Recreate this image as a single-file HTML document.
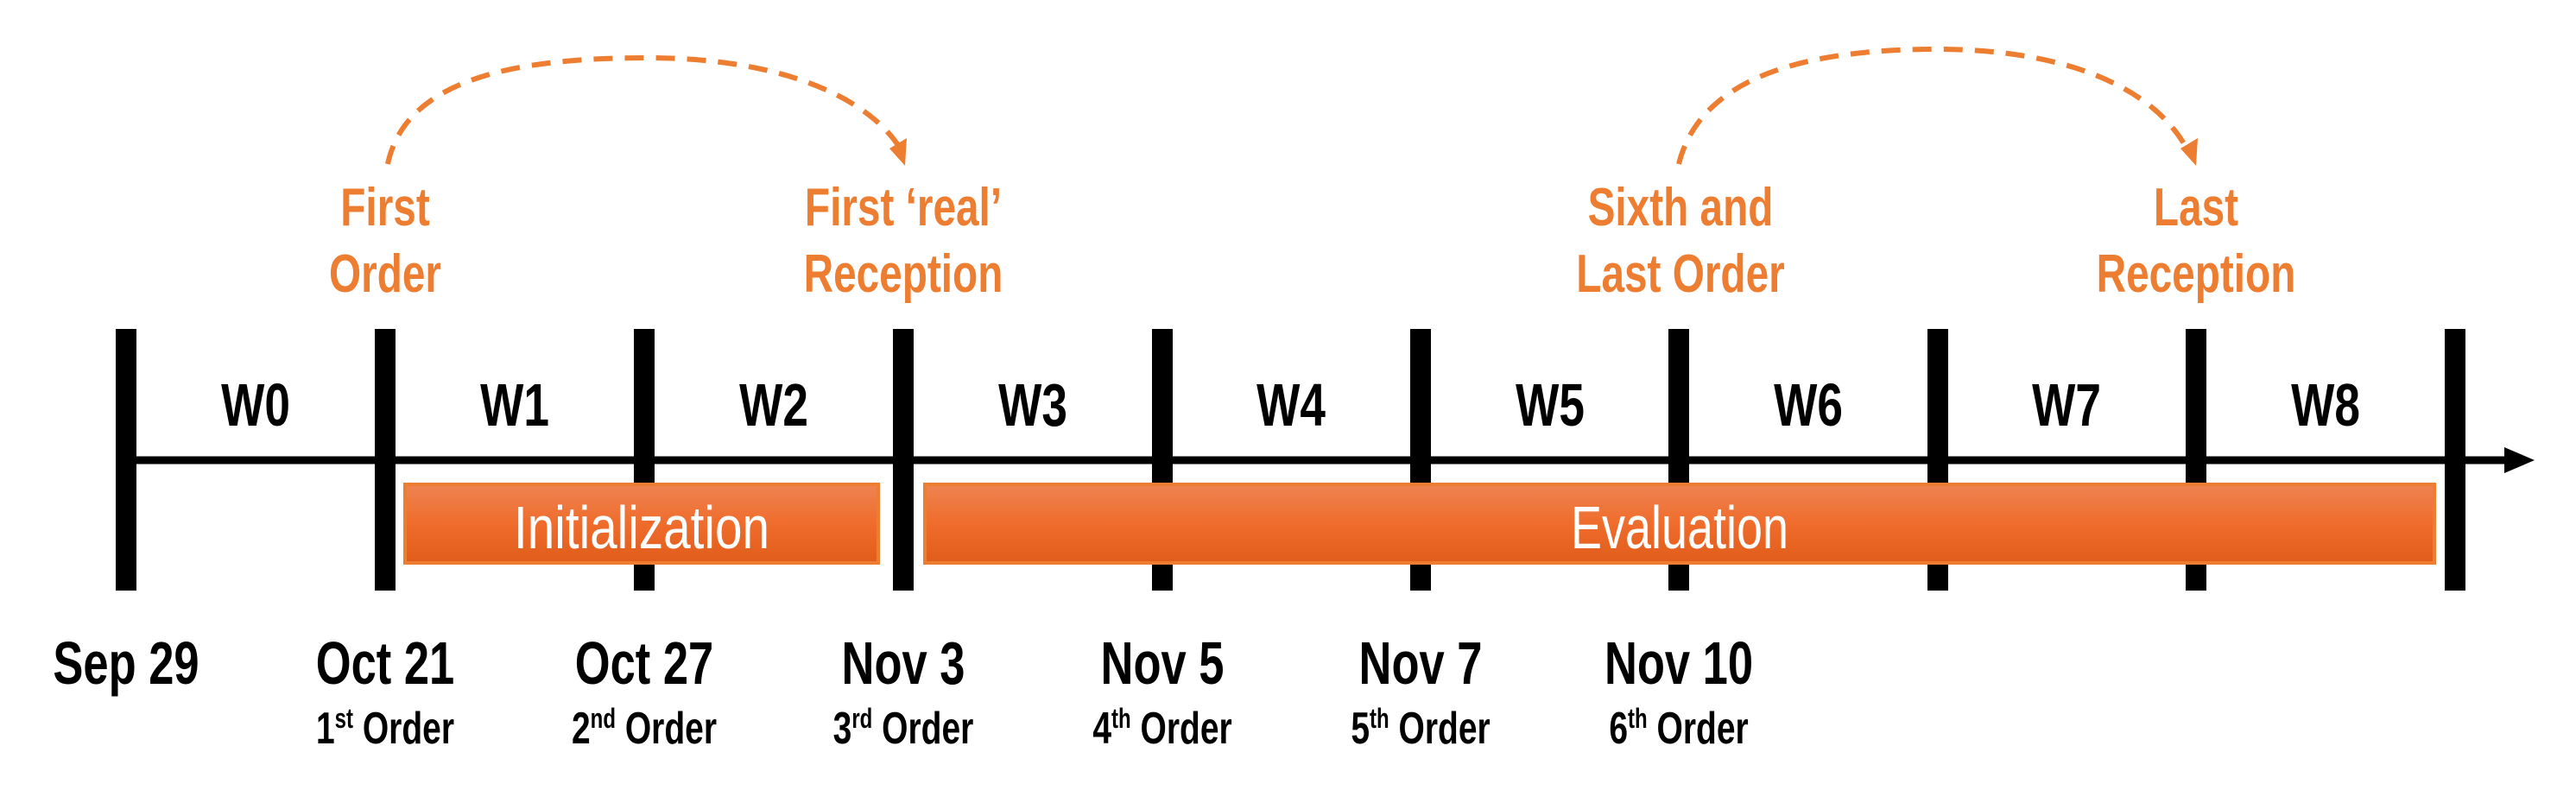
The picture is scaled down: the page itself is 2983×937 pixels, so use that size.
<!DOCTYPE html>
<html><head><meta charset="utf-8"><style>html,body{margin:0;padding:0;background:#fff}svg{display:block}</style></head>
<body>
<svg width="2983" height="937" viewBox="0 0 2983 937" xmlns="http://www.w3.org/2000/svg">
<defs>
<linearGradient id="g" x1="0" y1="0" x2="0" y2="1">
<stop offset="0" stop-color="#EE8452"/><stop offset="0.5" stop-color="#EF6C2C"/><stop offset="1" stop-color="#E05C1A"/>
</linearGradient>
</defs>
<!-- axis -->
<line x1="146" y1="533" x2="2900" y2="533" stroke="#000" stroke-width="9"/>
<polygon points="2935,533 2900,518 2900,548" fill="#000"/>
<!-- bars -->
<g fill="#000">
<rect x="134" y="381" width="24" height="303"/>
<rect x="434" y="381" width="24" height="303"/>
<rect x="734" y="381" width="24" height="303"/>
<rect x="1034" y="381" width="24" height="303"/>
<rect x="1334" y="381" width="24" height="303"/>
<rect x="1633" y="381" width="24" height="303"/>
<rect x="1932" y="381" width="24" height="303"/>
<rect x="2232" y="381" width="24" height="303"/>
<rect x="2531" y="381" width="24" height="303"/>
<rect x="2831" y="381" width="24" height="303"/>
</g>
<!-- boxes -->
<rect x="469" y="561" width="548" height="91" fill="url(#g)" stroke="#ED7D31" stroke-width="4"/>
<rect x="1071" y="561" width="1748" height="91" fill="url(#g)" stroke="#ED7D31" stroke-width="4"/>
<g font-family="Liberation Sans, sans-serif" fill="#fff" font-size="70">
<text x="743" y="635" text-anchor="middle" textLength="296" lengthAdjust="spacingAndGlyphs">Initialization</text>
<text x="1945" y="635" text-anchor="middle" textLength="252" lengthAdjust="spacingAndGlyphs">Evaluation</text>
</g>
<!-- week labels -->
<g font-family="Liberation Sans, sans-serif" font-weight="bold" font-size="70" fill="#000" text-anchor="middle">
<text transform="translate(296,493) scale(0.76,1)">W0</text>
<text transform="translate(596,493) scale(0.76,1)">W1</text>
<text transform="translate(896,493) scale(0.76,1)">W2</text>
<text transform="translate(1196,493) scale(0.76,1)">W3</text>
<text transform="translate(1495,493) scale(0.76,1)">W4</text>
<text transform="translate(1795,493) scale(0.76,1)">W5</text>
<text transform="translate(2094,493) scale(0.76,1)">W6</text>
<text transform="translate(2393,493) scale(0.76,1)">W7</text>
<text transform="translate(2693,493) scale(0.76,1)">W8</text>
</g>
<!-- dates -->
<g font-family="Liberation Sans, sans-serif" font-weight="bold" font-size="70" fill="#000" text-anchor="middle">
<text transform="translate(146,792) scale(0.75,1)">Sep 29</text>
<text transform="translate(446,792) scale(0.75,1)">Oct 21</text>
<text transform="translate(746,792) scale(0.75,1)">Oct 27</text>
<text transform="translate(1046,792) scale(0.75,1)">Nov 3</text>
<text transform="translate(1346,792) scale(0.75,1)">Nov 5</text>
<text transform="translate(1645,792) scale(0.75,1)">Nov 7</text>
<text transform="translate(1944,792) scale(0.75,1)">Nov 10</text>
</g>
<g font-family="Liberation Sans, sans-serif" font-weight="bold" font-size="52" fill="#000" text-anchor="middle">
<text transform="translate(446,861) scale(0.75,1)">1<tspan font-size="32" dy="-18">st</tspan><tspan dy="18"> Order</tspan></text>
<text transform="translate(746,861) scale(0.75,1)">2<tspan font-size="32" dy="-18">nd</tspan><tspan dy="18"> Order</tspan></text>
<text transform="translate(1046,861) scale(0.75,1)">3<tspan font-size="32" dy="-18">rd</tspan><tspan dy="18"> Order</tspan></text>
<text transform="translate(1346,861) scale(0.75,1)">4<tspan font-size="32" dy="-18">th</tspan><tspan dy="18"> Order</tspan></text>
<text transform="translate(1645,861) scale(0.75,1)">5<tspan font-size="32" dy="-18">th</tspan><tspan dy="18"> Order</tspan></text>
<text transform="translate(1944,861) scale(0.75,1)">6<tspan font-size="32" dy="-18">th</tspan><tspan dy="18"> Order</tspan></text>
</g>
<!-- orange labels -->
<g font-family="Liberation Sans, sans-serif" font-weight="bold" font-size="62" fill="#ED7D31" text-anchor="middle">
<text transform="translate(446,261) scale(0.77,1)">First</text>
<text transform="translate(446,338) scale(0.77,1)">Order</text>
<text transform="translate(1046,261) scale(0.77,1)">First ‘real’</text>
<text transform="translate(1046,338) scale(0.77,1)">Reception</text>
<text transform="translate(1946,261) scale(0.77,1)">Sixth and</text>
<text transform="translate(1946,338) scale(0.77,1)">Last Order</text>
<text transform="translate(2543,261) scale(0.77,1)">Last</text>
<text transform="translate(2543,338) scale(0.77,1)">Reception</text>
</g>
<!-- arcs -->
<g fill="none" stroke="#ED7D31" stroke-width="6" stroke-dasharray="22,14">
<path d="M449,190 C470,90 600,67 750,67 C900,67 1000,110 1040,168"/>
<path d="M1944,190 C1970,85 2100,57 2243,57 C2390,57 2490,100 2530,168"/>
</g>
<polygon points="1048,192 1030,172 1050,160" fill="#ED7D31"/>
<polygon points="2543,192 2525,172 2545,160" fill="#ED7D31"/>
</svg>
</body></html>
